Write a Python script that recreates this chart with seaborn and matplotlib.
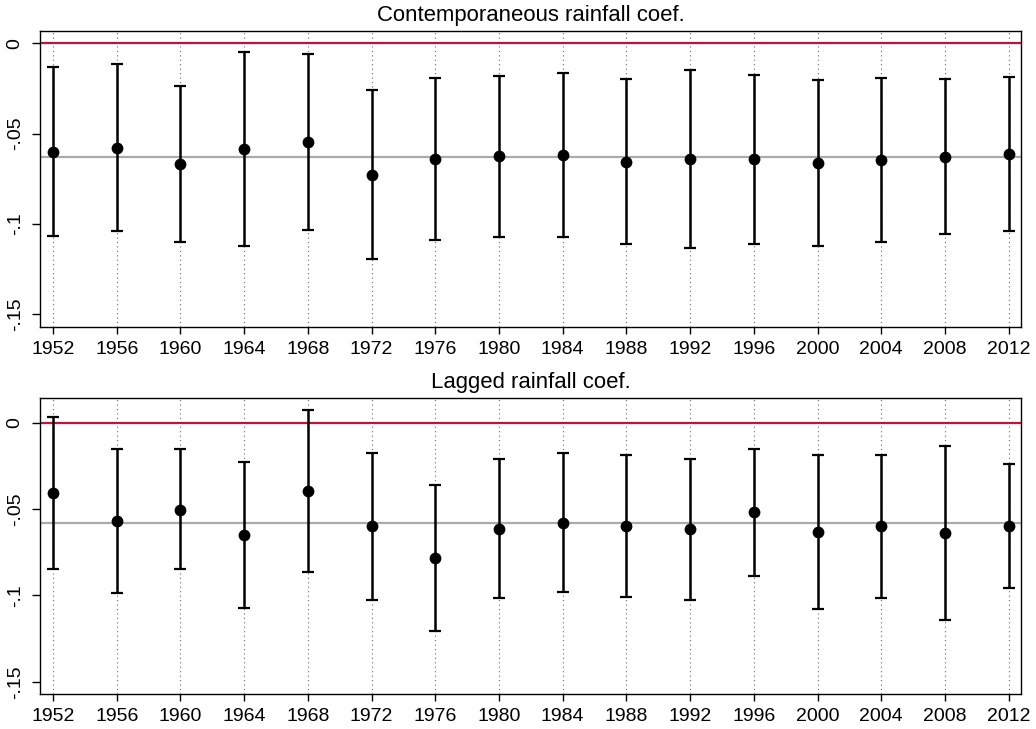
import matplotlib
matplotlib.use("Agg")
import matplotlib.pyplot as plt
import seaborn as sns
import numpy as np
import pandas as pd

years = [1952, 1956, 1960, 1964, 1968, 1972, 1976, 1980, 1984, 1988, 1992, 1996, 2000, 2004, 2008, 2012]

contemp_coef = [-0.0600, -0.0579, -0.0670, -0.0587, -0.0548, -0.0727, -0.0642, -0.0625,
                -0.0618, -0.0659, -0.0640, -0.0642, -0.0662, -0.0648, -0.0627, -0.0613]
contemp_hi = [-0.0131, -0.0116, -0.0236, -0.0048, -0.0057, -0.0260, -0.0190, -0.0181,
              -0.0162, -0.0199, -0.0149, -0.0175, -0.0203, -0.0190, -0.0199, -0.0185]
contemp_lo = [-0.1066, -0.1039, -0.1101, -0.1125, -0.1033, -0.1192, -0.1092, -0.1070,
              -0.1070, -0.1114, -0.1131, -0.1109, -0.1124, -0.1103, -0.1057, -0.1039]
contemp_ref = -0.0631

lagged_coef = [-0.0409, -0.0569, -0.0504, -0.0651, -0.0398, -0.0600, -0.0784, -0.0616,
               -0.0579, -0.0597, -0.0618, -0.0519, -0.0631, -0.0597, -0.0637, -0.0597]
lagged_hi = [0.0031, -0.0151, -0.0154, -0.0228, 0.0071, -0.0178, -0.0363, -0.0212,
             -0.0178, -0.0187, -0.0208, -0.0153, -0.0185, -0.0185, -0.0135, -0.0241]
lagged_lo = [-0.0849, -0.0986, -0.0849, -0.1071, -0.0865, -0.1025, -0.1205, -0.1017,
             -0.0983, -0.1010, -0.1027, -0.0888, -0.1077, -0.1014, -0.1141, -0.0958]
lagged_ref = -0.0583

titles = ["Contemporaneous rainfall coef.", "Lagged rainfall coef."]
ytick_vals = [0, -0.05, -0.1, -0.15]
ytick_labels = ["0", "-.05", "-.1", "-.15"]

sns.set_theme(style="white")
plt.rcParams['font.family'] = ['Liberation Sans', 'DejaVu Sans']
plt.rcParams['text.color'] = 'black'
plt.rcParams['xtick.color'] = 'black'
plt.rcParams['ytick.color'] = 'black'
plt.rcParams['axes.labelcolor'] = 'black'

fig = plt.figure(figsize=(10.36, 7.29), dpi=100)
ax1 = fig.add_axes([0.0389, 0.551, 0.9469, 0.4069])
ax2 = fig.add_axes([0.0389, 0.048, 0.9469, 0.4065])

panels = [
    (ax1, contemp_coef, contemp_lo, contemp_hi, contemp_ref, (-0.1573, 0.0070)),
    (ax2, lagged_coef, lagged_lo, lagged_hi, lagged_ref, (-0.1571, 0.0145)),
]

red = "#C8103E"
for (ax, coef, lo, hi, ref, ylim), title in zip(panels, titles):
    df = pd.DataFrame({"year": years, "coef": coef, "lo": lo, "hi": hi})
    for yr in years:
        ax.axvline(yr, color="#666666", lw=0.8, ls=(0, (1, 3)), zorder=0)
    ax.axhline(0, color=red, lw=1.6, zorder=1)
    ax.axhline(ref, color="#AAAAAA", lw=1.6, zorder=1)
    ax.errorbar(df["year"], df["coef"],
                yerr=[df["coef"] - df["lo"], df["hi"] - df["coef"]],
                fmt="none", ecolor="black", elinewidth=1.8, capsize=4.5, capthick=1.6, zorder=2)
    sns.scatterplot(data=df, x="year", y="coef", ax=ax, color="black", s=72,
                    edgecolor="black", linewidth=0, zorder=3, legend=False)
    ax.set_xlim(1951.2, 2012.79)
    ax.set_ylim(*ylim)
    ax.set_xticks(years)
    ax.set_xticklabels([str(y) for y in years], fontsize=14)
    ax.set_yticks(ytick_vals)
    ax.set_yticklabels(ytick_labels, fontsize=14, rotation=90, va="center")
    ax.set_xlabel("")
    ax.set_ylabel("")
    ax.tick_params(axis="x", direction="out", length=5, width=1, color="black",
                   labelcolor="black", pad=5, bottom=True)
    ax.tick_params(axis="y", direction="out", length=6, width=1, color="black",
                   labelcolor="black", pad=6, left=True)
    for sp in ax.spines.values():
        sp.set_visible(True)
        sp.set_color("black")
        sp.set_linewidth(1.0)
    ax.set_title(title, fontsize=15.9, pad=7, color="black")
    ax.grid(False)

fig.savefig("out.png", dpi=100, facecolor="white")
